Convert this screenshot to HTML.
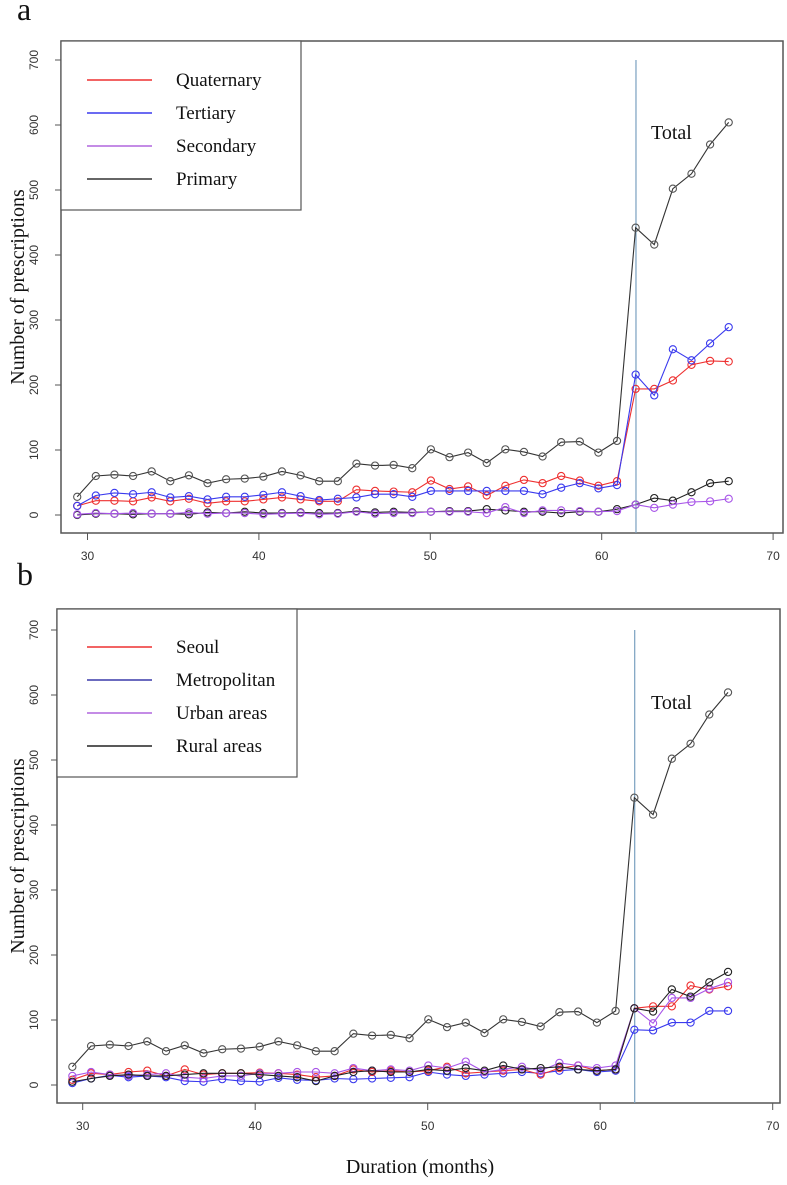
<!DOCTYPE html>
<html><head><meta charset="utf-8"><style>
html,body{margin:0;padding:0;background:#fff}
svg{display:block}
.tk{font-family:"Liberation Sans",sans-serif;font-size:12px;fill:#333}
.sf{font-family:"Liberation Serif",serif;fill:#111}
</style></head><body>
<svg id="chart" width="787" height="1185" viewBox="0 0 787 1185" xmlns="http://www.w3.org/2000/svg"></svg>
<script>
const xStart = 29.4, xStep = 1.086;
const total = [28,60,62,60,67,52,61,49,55,56,59,67,61,52,52,79,76,77,72,101,89,96,80,101,97,90,112,113,96,114,442,416,502,525,570,604];
const quaternary = [14,22,22,21,27,21,25,18,21,21,24,27,24,21,21,39,37,36,35,53,40,44,30,45,54,49,60,53,45,52,194,194,207,231,237,236];
const tertiary = [14,30,34,32,35,27,29,24,28,28,31,35,29,23,25,27,32,32,28,37,37,37,37,37,37,32,42,49,41,46,216,184,255,238,264,289];
const secondary = [1,3,2,3,2,2,4,2,3,3,1,2,3,1,2,5,2,3,3,5,5,5,3,12,3,7,7,6,5,6,16,11,16,20,21,25];
const primary = [0,2,2,1,2,2,1,4,3,5,3,3,4,3,3,6,4,5,4,5,6,6,9,7,5,5,3,5,5,9,16,26,22,35,49,52];
const seoul = [8,18,16,20,22,14,24,16,18,18,19,18,16,12,14,24,20,22,20,22,28,18,20,22,24,16,26,30,22,24,118,121,121,153,147,152];
const metropolitan = [3,10,15,12,14,12,6,5,9,6,5,11,8,7,10,9,10,11,12,20,16,14,16,18,20,18,22,24,20,22,85,84,96,96,114,114];
const urban = [14,20,16,14,16,18,12,10,14,14,18,18,20,20,18,26,22,24,22,30,26,36,20,24,28,22,34,30,26,30,118,95,134,134,148,158];
const rural = [5,10,14,16,14,14,16,18,18,18,16,14,12,6,14,20,22,20,20,24,22,26,22,30,24,26,28,24,22,24,118,113,147,136,158,174];
const xTicks = [30,40,50,60,70];
const yTicks = [0,100,200,300,400,500,600,700];
const legendA = ["Quaternary","Tertiary","Secondary","Primary"];
const legendB = ["Seoul","Metropolitan","Urban areas","Rural areas"];

const NS = "http://www.w3.org/2000/svg";
const svg = document.getElementById('chart');
function mk(tag, attrs, parent){const e=document.createElementNS(NS,tag);for(const k in attrs)e.setAttribute(k,attrs[k]);(parent||svg).appendChild(e);return e;}

function panel(cfg){
  const g = mk('g',{});
  
  
  const xs = v => cfg.x0 + (v-30)*cfg.xk;
  const ys = v => cfg.y0 - v*0.65;
  // box
  const box = mk('rect',{x:cfg.L,y:cfg.T,width:cfg.R-cfg.L,height:cfg.B-cfg.T,fill:'none',stroke:'#555','stroke-width':1.5},g);
  
  
  // y ticks
  yTicks.forEach(v=>{
    const y=ys(v);
    mk('line',{x1:cfg.L-6,x2:cfg.L,y1:y,y2:y,stroke:'#555'},g);
    const t=mk('text',{x:38,y:y,class:'tk','text-anchor':'middle',transform:`rotate(-90 38 ${y})`,dy:'0'},g);
    t.textContent=v;
    
    
  });
  xTicks.forEach(v=>{
    const x=xs(v);
    mk('line',{x1:x,x2:x,y1:cfg.B,y2:cfg.B+7,stroke:'#555'},g);
    const t=mk('text',{x:x,y:cfg.B+27,class:'tk','text-anchor':'middle','font-size':'13'},g);
    t.textContent=v;
    
    
  });
  const yt=mk('text',{x:24,y:(cfg.T+cfg.B)/2,class:'sf','font-size':'20','text-anchor':'middle',transform:`rotate(-90 24 ${(cfg.T+cfg.B)/2})`},g);
  yt.textContent='Number of prescriptions';
  
  
  // vline
  const vl=mk('line',{x1:xs(62),x2:xs(62),y1:ys(700),y2:cfg.B,stroke:'#7aa0c0','stroke-width':1.2},g);
  
  
  // series
  cfg.series.forEach(s=>{
    const sg=mk('g',{},g);
    
    
    const pts=s.data.map((v,i)=>[xs(xStart+i*xStep),ys(v)]);
    mk('polyline',{points:pts.map(p=>p.join(',')).join(' '),fill:'none',stroke:s.color,'stroke-width':1.1},sg);
    pts.forEach(p=>{
      const c=mk('circle',{cx:p[0],cy:p[1],r:3.6,fill:'none',stroke:s.pc||s.color,'stroke-width':1.1},sg);
      
      
    });
  });
  // legend
  const lg=mk('g',{},g);
  
  
  mk('rect',{x:cfg.L,y:cfg.T,width:cfg.LR-cfg.L,height:cfg.LB-cfg.T,fill:'#fff',stroke:'#555','stroke-width':1.2},lg);
  cfg.legend.forEach((lab,i)=>{
    const y=cfg.legY+i*33;
    const e=mk('g',{},lg);
    
    
    mk('line',{x1:87,x2:152,y1:y,y2:y,stroke:cfg.legColors[i],'stroke-width':1.5},e);
    const t=mk('text',{x:176,y:y+6,class:'sf','font-size':'19'},e);
    t.textContent=lab;
  });
  const tt=mk('text',{x:651,y:cfg.totalY,class:'sf','font-size':'20'},g);
  tt.textContent='Total';
  
  
  const pl=mk('text',{x:cfg.labX,y:cfg.labY,class:'sf','font-size':'32'},g);
  pl.textContent=cfg.label;
  
  
}

panel({name:'panel-a',label:'a',labX:17,labY:20,x0:87.5,xk:17.14,y0:515,L:61,R:783,T:41,B:533,LR:301,LB:210,legY:80,totalY:139,
  legend:legendA,legColors:['#ee3030','#3a3aee','#b066dd','#333'],
  series:[{name:'series-total-a',data:total,color:'#333',pc:'#555'},
    {name:'series-primary',data:primary,color:'#222'},
    {name:'series-secondary',data:secondary,color:'#a855e8'},
    {name:'series-quaternary',data:quaternary,color:'#ee3030'},
    {name:'series-tertiary',data:tertiary,color:'#3a3aee'}]});

panel({name:'panel-b',label:'b',labX:17,labY:585,x0:82.7,xk:17.25,y0:1085,L:57,R:780,T:609,B:1103,LR:297,LB:777,legY:647,totalY:709,
  legend:legendB,legColors:['#ee3030','#3a3aaa','#b066dd','#222'],
  series:[{name:'series-total-b',data:total,color:'#333',pc:'#555'},
    {name:'series-metropolitan',data:metropolitan,color:'#3a3aee'},
    {name:'series-seoul',data:seoul,color:'#ee3030'},
    {name:'series-urban',data:urban,color:'#a855e8'},
    {name:'series-rural',data:rural,color:'#222'}]});

const xt=mk('text',{x:420,y:1173,class:'sf','font-size':'20','text-anchor':'middle'});
xt.textContent='Duration (months)';


</script>
</body></html>
